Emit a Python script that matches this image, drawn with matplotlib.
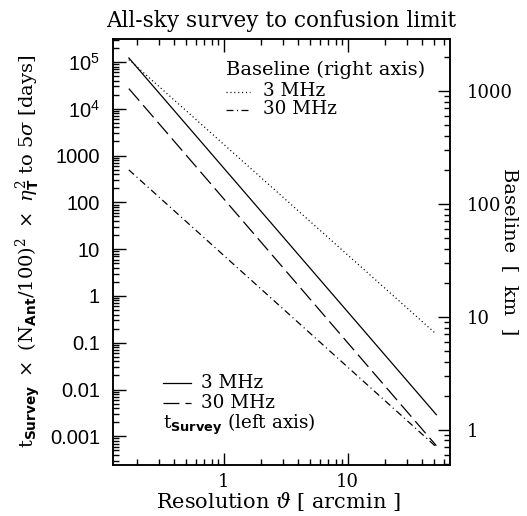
import matplotlib
matplotlib.use("Agg")
import matplotlib.pyplot as plt
import numpy as np
from matplotlib.ticker import LogLocator, NullFormatter

# ---------------- data ----------------
theta = [0.172, 52.0]                 # resolution [arcmin], line end points
t_survey_3mhz = [1.22e5, 2.9e-3]      # days (left axis)
t_survey_30mhz = [2.7e4, 6.3e-4]      # days (left axis)
baseline_3mhz = [1900.0, 7.0]         # km (right axis)
baseline_30mhz = [200.0, 0.70]        # km (right axis)

left_ticks = [1e5, 1e4, 1e3, 1e2, 1e1, 1, 0.1, 0.01, 0.001]
left_ticklabels = [r"$\mathsf{10^{5}}$", r"$\mathsf{10^{4}}$", "1000", "100", "10", "1",
                   "0.1", "0.01", "0.001"]
right_ticks = [1000, 100, 10, 1]
right_ticklabels = ["1000", "100", "10", "1"]
x_ticks = [1, 10]
x_ticklabels = ["1", "10"]

# ---------------- style ----------------
plt.rcParams["font.family"] = ["DejaVu Serif"]
plt.rcParams["mathtext.fontset"] = "custom"
plt.rcParams["mathtext.rm"] = "DejaVu Serif"
plt.rcParams["mathtext.it"] = "DejaVu Serif:italic"
plt.rcParams["mathtext.bf"] = "DejaVu Sans:bold"
plt.rcParams["mathtext.sf"] = "Liberation Sans"
plt.rcParams["lines.scale_dashes"] = False

FS = 13
FS_LEG = 13.2
LW = 0.9
DOT = (0, (0.8, 2.0))
DASHDOT = (0, (5.0, 2.5, 0.8, 2.5))
DASH = (0, (11.5, 4.3))

fig = plt.figure(figsize=(5.27, 5.16), dpi=100)
ax = fig.add_axes([0.2135, 0.0998, 0.8539 - 0.2135, 0.9244 - 0.0998])
ax2 = ax.twinx()

ax.set_xscale("log")
ax.set_yscale("log")
ax2.set_yscale("log")
ax.set_xlim(0.127, 67)
ax.set_ylim(2.5e-4, 3.1e5)
ax2.set_ylim(0.49, 2890)

ax.plot(theta, t_survey_3mhz, color="black", lw=LW, ls="-")
ax.plot(theta, t_survey_30mhz, color="black", lw=LW, ls=DASH)
ax2.plot(theta, baseline_3mhz, color="black", lw=LW, ls=DOT)
ax2.plot(theta, baseline_30mhz, color="black", lw=LW, ls=DASHDOT)

# ticks
for a in (ax, ax2):
    for s in a.spines.values():
        s.set_linewidth(1.1)
ax.tick_params(which="both", direction="in", top=True, right=False, width=1.0)
ax.tick_params(which="major", length=9)
ax.tick_params(which="minor", length=4.3)
ax2.tick_params(which="both", direction="in", left=False, right=True, width=1.0)
ax2.tick_params(which="major", length=9)
ax2.tick_params(which="minor", length=4.3)

ax.set_xticks(x_ticks)
ax.set_xticklabels(x_ticklabels, fontsize=FS)
ax.set_yticks(left_ticks)
ax.set_yticklabels(left_ticklabels, fontsize=14.5, family="Liberation Sans")
ax2.set_yticks(right_ticks)
ax2.set_yticklabels(right_ticklabels, fontsize=FS)
ax.tick_params(axis="y", which="major", pad=9)
ax.tick_params(axis="x", which="major", pad=6)
ax2.tick_params(axis="y", which="major", pad=12)

ax.xaxis.set_minor_locator(LogLocator(base=10, subs=np.arange(2, 10), numticks=20))
ax.yaxis.set_minor_locator(LogLocator(base=10, subs=np.arange(2, 10), numticks=30))
ax2.yaxis.set_minor_locator(LogLocator(base=10, subs=np.arange(2, 10), numticks=20))
ax.xaxis.set_minor_formatter(NullFormatter())
ax.yaxis.set_minor_formatter(NullFormatter())
ax2.yaxis.set_minor_formatter(NullFormatter())

# labels
ax.set_title("All-sky survey to confusion limit", fontsize=15.5, pad=9)
ax.set_xlabel(r"Resolution $\vartheta$ [ arcmin ]", fontsize=15)
ax.xaxis.set_label_coords(0.49, -0.06)
ax.set_ylabel(r"$\mathrm{t}_{\mathbf{Survey}}\ \times\ (\mathrm{N}_{\mathbf{Ant}}/100)^2\ \times\ \eta_{\mathbf{T}}^2$ to 5$\sigma$ [days]",
              fontsize=14)
ax.yaxis.set_label_coords(-0.205, 0.5)
ax2.set_ylabel("Baseline  [  km  ]", fontsize=14, rotation=-90, va="bottom")
ax2.yaxis.set_label_coords(1.152, 0.5)

# legend (upper right, right axis)
T = ax.transAxes
ax.text(0.336, 0.9154, "Baseline (right axis)", transform=T, fontsize=14, va="baseline")
ax.plot([0.336, 0.407], [0.876, 0.876], transform=T, color="black", lw=LW, ls=DOT)
ax.text(0.445, 0.8654, "3 MHz", transform=T, fontsize=FS_LEG, va="baseline")
ax.plot([0.336, 0.407], [0.833, 0.833], transform=T, color="black", lw=LW, ls=DASHDOT)
ax.text(0.445, 0.8231, "30 MHz", transform=T, fontsize=FS_LEG, va="baseline")

# legend (lower left, left axis)
ax.plot([0.150, 0.233], [0.1908, 0.1908], transform=T, color="black", lw=LW, ls="-")
ax.text(0.261, 0.1798, "3 MHz", transform=T, fontsize=FS_LEG, va="baseline")
ax.plot([0.150, 0.233], [0.1438, 0.1438], transform=T, color="black", lw=LW, ls=DASH)
ax.text(0.261, 0.1320, "30 MHz", transform=T, fontsize=FS_LEG, va="baseline")
ax.text(0.150, 0.0835, r"$\mathrm{t}_{\mathbf{Survey}}$ (left axis)", transform=T,
        fontsize=FS_LEG, va="baseline")

fig.savefig("out.png", dpi=100)
